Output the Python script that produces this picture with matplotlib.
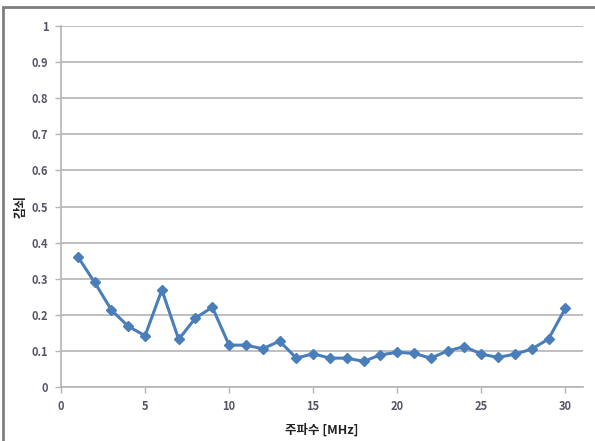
import matplotlib.pyplot as plt
from matplotlib.patches import Rectangle

plt.rcParams['font.family'] = ['Noto Sans CJK KR', 'DejaVu Sans']

# 주파수 (MHz) / 감쇠
freq = [1, 2, 3, 4, 5, 6, 7, 8, 9, 10, 11, 12, 13, 14, 15,
        16, 17, 18, 19, 20, 21, 22, 23, 24, 25, 26, 27, 28, 29, 30]
atten = [0.361, 0.290, 0.213, 0.168, 0.142, 0.269, 0.132, 0.191, 0.221, 0.116,
         0.116, 0.106, 0.127, 0.080, 0.092, 0.080, 0.080, 0.071, 0.089, 0.096,
         0.093, 0.080, 0.100, 0.112, 0.091, 0.082, 0.091, 0.105, 0.133, 0.218]
xticks = [0, 5, 10, 15, 20, 25, 30]
yticks = [0, 0.1, 0.2, 0.3, 0.4, 0.5, 0.6, 0.7, 0.8, 0.9, 1]
ytick_labels = ['0', '0.1', '0.2', '0.3', '0.4', '0.5', '0.6', '0.7', '0.8', '0.9', '1']

fig = plt.figure(figsize=(5.95, 4.41), dpi=100)
# outer chart frame
fig.patches.append(Rectangle((3 / 595, -0.01), 1.0, 1 - 7 / 441 + 0.01,
                             transform=fig.transFigure, fill=False,
                             edgecolor='#7f7f7f', linewidth=2))

ax = fig.add_axes([61 / 595, 54 / 441, 522 / 595, 361 / 441])
ax.plot(freq, atten, color='#4a7ebb', linewidth=2.2, marker='D',
        markersize=5.5, markerfacecolor='#4a7ebb', markeredgecolor='#4a7ebb')

ax.set_xlim(0, 31.05)
ax.set_ylim(0, 1)
ax.set_xticks(xticks)
ax.set_yticks(yticks)
ax.set_yticklabels(ytick_labels)
ax.grid(axis='y', color='#b4b4b4', linewidth=1.2)
ax.set_axisbelow(True)

for s in ['top', 'right']:
    ax.spines[s].set_visible(False)
for s in ['left', 'bottom']:
    ax.spines[s].set_color('#b4b4b4')
    ax.spines[s].set_linewidth(1.2)

ax.tick_params(axis='both', colors='#b4b4b4', length=4, width=1, labelsize=8,
               labelcolor='#555566', pad=5)
for lab in ax.get_xticklabels() + ax.get_yticklabels():
    lab.set_fontweight('bold')

ax.set_xlabel('주파수 [MHz]', fontsize=9, fontweight='bold', color='#222222', labelpad=8)
ax.set_ylabel('감쇠', fontsize=9, fontweight='bold', color='#222222', labelpad=3)

fig.savefig('out.png', dpi=100)
